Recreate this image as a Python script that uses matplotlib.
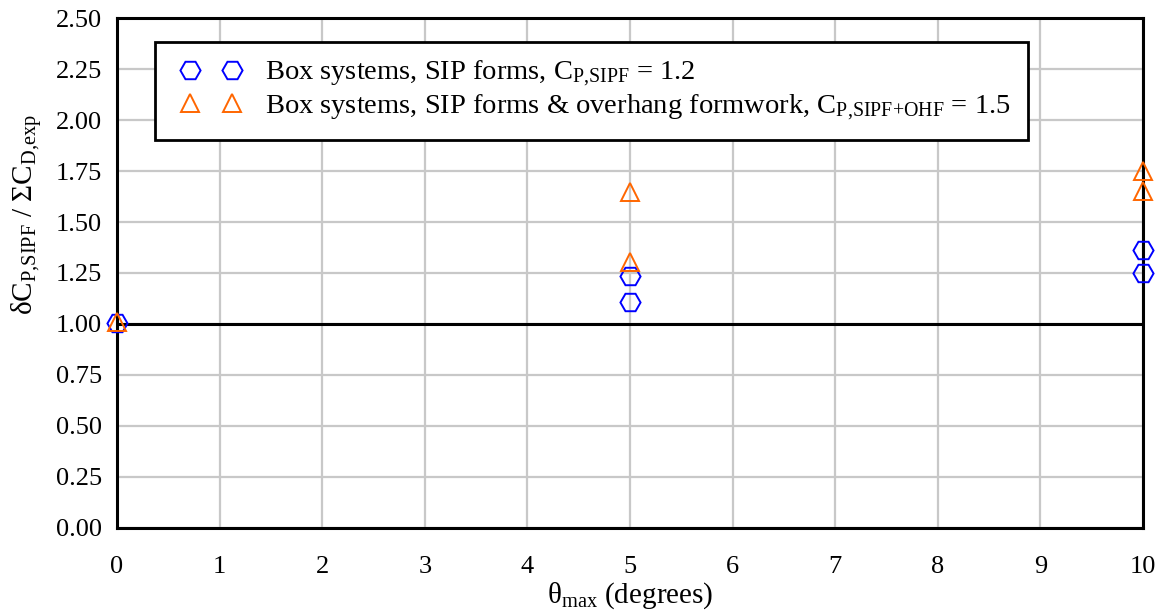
import matplotlib
matplotlib.use("Agg")
import matplotlib.pyplot as plt
from matplotlib.legend_handler import HandlerLine2D

# data
theta_sipf = [0, 5, 5, 10, 10]
ratio_sipf = [1.005, 1.233, 1.11, 1.365, 1.252]

theta_ohf = [0, 5, 5, 10, 10]
ratio_ohf = [1.01, 1.647, 1.306, 1.748, 1.65]

x_ticks = list(range(0, 11))
y_ticks = [0.0, 0.25, 0.5, 0.75, 1.0, 1.25, 1.5, 1.75, 2.0, 2.25, 2.5]

label_sipf = r'Box systems, SIP forms, C$_{\mathrm{P{,}SIPF}}$ = 1.2'
label_ohf = r'Box systems, SIP forms & overhang formwork, C$_{\mathrm{P{,}SIPF{+}OHF}}$ = 1.5'

plt.rcParams['font.family'] = ['Liberation Serif', 'DejaVu Serif']
plt.rcParams['mathtext.fontset'] = 'custom'
plt.rcParams['mathtext.rm'] = 'Liberation Serif'
plt.rcParams['mathtext.it'] = 'Liberation Serif:italic'
plt.rcParams['mathtext.bf'] = 'Liberation Serif:bold'
plt.rcParams['mathtext.default'] = 'rm'

fig = plt.figure(figsize=(11.61, 6.15), dpi=100)
ax = fig.add_axes([0.1008, 0.1415, 0.8837, 0.8292])

ax.set_xlim(0, 10)
ax.set_ylim(0, 2.5)
ax.set_xticks(x_ticks)
ax.set_yticks(y_ticks)
ax.set_yticklabels([f'{v:.2f}' for v in y_ticks])
ax.grid(True, color='#c8c8c8', linewidth=1.6, zorder=0)
ax.set_axisbelow(True)
ax.tick_params(length=0, labelsize=19)
ax.tick_params(axis='x', pad=20)
ax.tick_params(axis='y', pad=11)

for sp in ax.spines.values():
    sp.set_linewidth(2.2)
    sp.set_color('black')

ax.axhline(1.0, color='black', linewidth=2.2, zorder=2)

l1, = ax.plot(theta_sipf, ratio_sipf, linestyle='none', marker='H', markersize=14.5,
              markerfacecolor='none', markeredgecolor='#0000ff', markeredgewidth=1.4,
              label=label_sipf, zorder=4, clip_on=False)
l2, = ax.plot(theta_ohf, ratio_ohf, linestyle='none', marker='^', markersize=12.5,
              markerfacecolor='none', markeredgecolor='#ff6600', markeredgewidth=1.4,
              label=label_ohf, zorder=5, clip_on=False)

ax.set_xlabel(r'$\theta_{\mathrm{max}}$ (degrees)', fontsize=21, labelpad=2)
ax.set_ylabel(r'$\delta$C$_{\mathrm{P{,}SIPF}}$ / $\Sigma$C$_{\mathrm{D{,}exp}}$',
              fontsize=21)
ax.yaxis.set_label_coords(-0.07, 0.615)

hmap = {l1: HandlerLine2D(marker_pad=0.63), l2: HandlerLine2D(marker_pad=0.63)}
leg = ax.legend(loc='upper left', bbox_to_anchor=(0.037, 0.953), borderaxespad=0,
                numpoints=2, fontsize=20.5, fancybox=False, framealpha=1,
                edgecolor='black', handlelength=2.74, handletextpad=0.53,
                borderpad=0.6, labelspacing=0.1, handler_map=hmap)
leg.get_frame().set_linewidth(2.0)

fig.savefig('out.png', dpi=100)
